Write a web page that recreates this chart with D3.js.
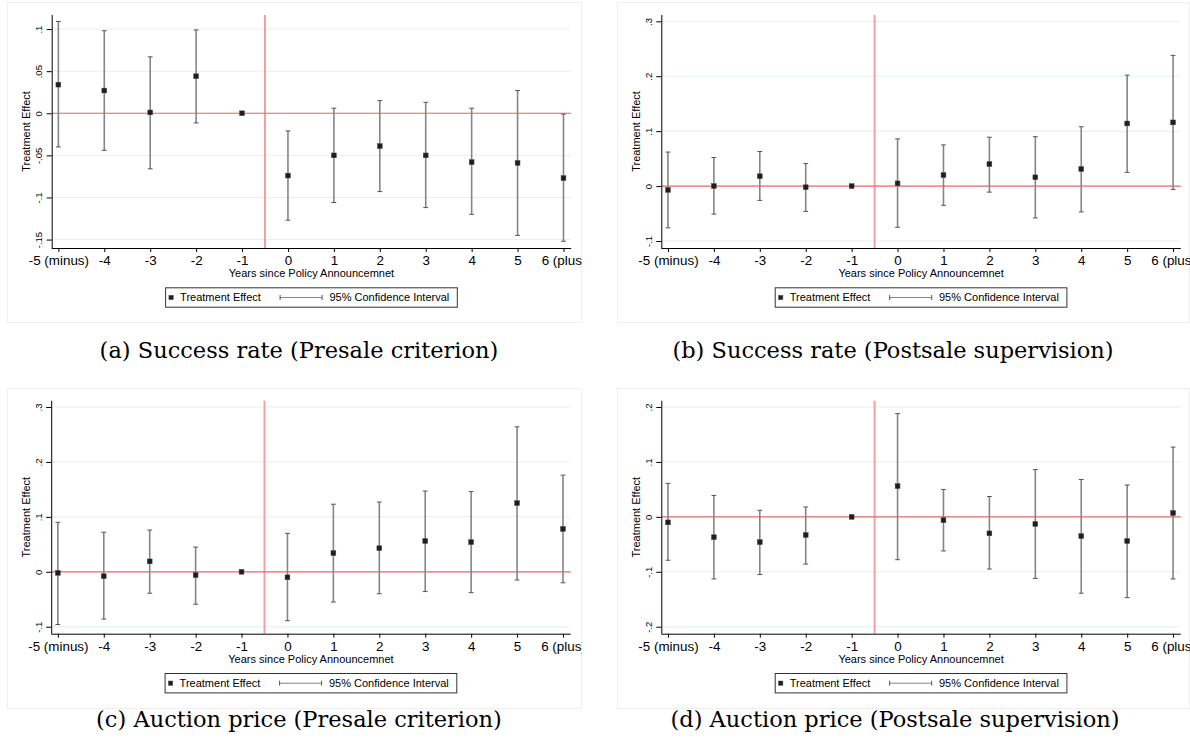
<!DOCTYPE html>
<html>
<head>
<meta charset="utf-8">
<script src="https://cdn.jsdelivr.net/npm/d3@7"></script>
<style>
  body { margin: 0; background: #fff; }
  text { font-family: "Liberation Sans", Arial, sans-serif; fill: #000; }
  text.caption { font-family: "DejaVu Serif", serif; font-size: 22.5px; }
</style>
</head>
<body>
<svg id="svg" width="1190" height="755"></svg>
<script>
// Event years and tick labels (shared by all panels)
const years = [-5, -4, -3, -2, -1, 0, 1, 2, 3, 4, 5, 6];
const yearLabels = ["-5 (minus)", "-4", "-3", "-2", "-1", "0", "1", "2", "3", "4", "5", "6 (plus)"];

// (a) Success rate, presale criterion
const estA = [0.034, 0.027, 0.001, 0.044, 0, -0.074, -0.050, -0.039, -0.050, -0.058, -0.059, -0.077];
const loA = [-0.040, -0.044, -0.066, -0.0115, null, -0.127, -0.106, -0.093, -0.112, -0.120, -0.145, -0.152];
const hiA = [0.109, 0.098, 0.067, 0.099, null, -0.021, 0.006, 0.015, 0.013, 0.006, 0.027, -0.001];

// (b) Success rate, postsale supervision
const estB = [-0.007, 0, 0.018, -0.002, 0, 0.005, 0.020, 0.040, 0.016, 0.031, 0.114, 0.116];
const loB = [-0.076, -0.051, -0.026, -0.046, null, -0.075, -0.035, -0.011, -0.058, -0.047, 0.025, -0.006];
const hiB = [0.062, 0.052, 0.063, 0.041, null, 0.086, 0.075, 0.089, 0.090, 0.108, 0.202, 0.238];

// (c) Auction price, presale criterion
const estC = [-0.002, -0.008, 0.019, -0.006, 0, -0.010, 0.034, 0.043, 0.056, 0.054, 0.125, 0.078];
const loC = [-0.096, -0.086, -0.039, -0.059, null, -0.089, -0.055, -0.040, -0.036, -0.038, -0.015, -0.020];
const hiC = [0.090, 0.072, 0.076, 0.045, null, 0.070, 0.123, 0.127, 0.147, 0.146, 0.264, 0.176];

// (d) Auction price, postsale supervision
const estD = [-0.010, -0.037, -0.046, -0.033, 0, 0.056, -0.006, -0.030, -0.013, -0.035, -0.044, 0.007];
const loD = [-0.079, -0.113, -0.105, -0.086, null, -0.078, -0.062, -0.095, -0.112, -0.139, -0.147, -0.113];
const hiD = [0.061, 0.039, 0.012, 0.018, null, 0.188, 0.050, 0.037, 0.086, 0.068, 0.058, 0.127];

// y tick values / labels
const ticksA = [0.1, 0.05, 0, -0.05, -0.1, -0.15];
const tickLabelsA = [".1", ".05", "0", "-.05", "-.1", "-.15"];
const ticksB = [0.3, 0.2, 0.1, 0, -0.1];
const tickLabelsB = [".3", ".2", ".1", "0", "-.1"];
const ticksD = [0.2, 0.1, 0, -0.1, -0.2];
const tickLabelsD = [".2", ".1", "0", "-.1", "-.2"];

const captions = [
  "(a) Success rate (Presale criterion)",
  "(b) Success rate (Postsale supervision)",
  "(c) Auction price (Presale criterion)",
  "(d) Auction price (Postsale supervision)"
];

const legendLabels = ["Treatment Effect", "95% Confidence Interval"];
const xTitle = "Years since Policy Announcemnet";
const yTitle = "Treatment Effect";
const policyLine = -0.5;

const attr = {
  plotWidth: 519.5,
  plotHeight: 233,
  xDomain: [-5.145, 6.168]
}

const colors = {
  grid: "#e6eff1",
  redH: "#ee6a6a",
  redV: "#f5a0a0",
  ci: "#858585",
  cap: "#555555",
  marker: "#1e1e1e",
  frame: "#efefef"
}

const panels = [
  { left: 51.7, top: 15, est: estA, lo: loA, hi: hiA, ticks: ticksA, labels: tickLabelsA,
    domain: [-0.16, 0.1167], frame: [7, 2, 582, 323], capX: 299, capY: 358 },
  { left: 661.3, top: 15, est: estB, lo: loB, hi: hiB, ticks: ticksB, labels: tickLabelsB,
    domain: [-0.1127, 0.3115], frame: [617, 2, 1190, 323], capX: 893, capY: 358 },
  { left: 51.2, top: 400.7, est: estC, lo: loC, hi: hiC, ticks: ticksB, labels: tickLabelsB,
    domain: [-0.1127, 0.3115], frame: [7, 388, 582, 709], capX: 299, capY: 727 },
  { left: 661.3, top: 400.7, est: estD, lo: loD, hi: hiD, ticks: ticksD, labels: tickLabelsD,
    domain: [-0.2127, 0.2115], frame: [617, 388, 1190, 709], capX: 895, capY: 727 }
];

const svg = d3.select("svg#svg");

var translate = function(a, b) {
  return "translate(" + a + "," + b + ")";
}

var drawPanel = function(p, i) {
  let W = attr.plotWidth, H = attr.plotHeight;

  // faint frame of the graph image
  let f = p.frame;
  svg.append("rect")
    .attr("x", f[0] + 0.5).attr("y", f[1] + 0.5)
    .attr("width", f[2] - f[0] - 1).attr("height", f[3] - f[1] - 1)
    .style("fill", "none").style("stroke", colors.frame);

  let clipId = "clip" + i;
  svg.append("clipPath").attr("id", clipId)
    .append("rect")
    .attr("x", f[0]).attr("y", f[1])
    .attr("width", f[2] - f[0]).attr("height", f[3] - f[1]);

  let g = svg.append("g")
    .attr("transform", translate(p.left, p.top));
  let gc = svg.append("g")
    .attr("clip-path", "url(#" + clipId + ")")
    .append("g")
    .attr("transform", translate(p.left, p.top));

  let x = d3.scaleLinear().domain(attr.xDomain).range([0, W]);
  let y = d3.scaleLinear().domain(p.domain).range([H, 0]);

  // grid
  g.selectAll("line.grid")
    .data(p.ticks)
    .enter()
    .append("line")
    .attr("class", "grid")
    .attr("x1", 0).attr("x2", W)
    .attr("y1", d => y(d)).attr("y2", d => y(d))
    .style("stroke", colors.grid).style("stroke-width", 1);

  // reference lines
  g.append("line")
    .attr("x1", x(policyLine)).attr("x2", x(policyLine))
    .attr("y1", 0).attr("y2", H)
    .style("stroke", colors.redV).style("stroke-width", 2);
  g.append("line")
    .attr("x1", 0).attr("x2", W)
    .attr("y1", y(0)).attr("y2", y(0))
    .style("stroke", colors.redH).style("stroke-width", 1.2);

  // y axis
  let yAxis = d3.axisLeft(y)
    .tickValues(p.ticks)
    .tickSize(5)
    .tickPadding(0)
    .tickFormat((d, k) => p.labels[k]);
  let ya = g.append("g").call(yAxis);
  ya.select(".domain").attr("d", "M0.5," + 0 + "V" + H).style("stroke", "#000");
  ya.selectAll(".tick line").style("stroke", "#000");
  ya.selectAll(".tick text")
    .attr("x", null).attr("dy", null)
    .attr("transform", "translate(-9.7,0) rotate(-90)")
    .attr("text-anchor", "middle")
    .style("font-family", "Liberation Sans, Arial, sans-serif")
    .style("font-size", "9.5px");

  // x axis
  let xAxis = d3.axisBottom(x)
    .tickValues(years)
    .tickSize(4)
    .tickPadding(4)
    .tickFormat((d, k) => yearLabels[k]);
  let xa = gc.append("g").attr("transform", translate(0, H)).call(xAxis);
  xa.select(".domain").attr("d", "M0," + 0.5 + "H" + W).style("stroke", "#000");
  xa.selectAll(".tick line").style("stroke", "#000");
  xa.selectAll(".tick text")
    .attr("dy", null).attr("y", 17)
    .style("font-family", "Liberation Sans, Arial, sans-serif")
    .style("font-size", "13.4px");

  // axis titles
  g.append("text")
    .attr("x", W / 2).attr("y", H + 29.3)
    .attr("text-anchor", "middle")
    .style("font-size", "11px")
    .text(xTitle);
  g.append("text")
    .attr("transform", translate(-21.5, H / 2) + " rotate(-90)")
    .attr("text-anchor", "middle")
    .style("font-size", "11px")
    .text(yTitle);

  // confidence intervals
  let rows = years.map((yr, k) => ({ yr: yr, est: p.est[k], lo: p.lo[k], hi: p.hi[k] }));
  let ci = rows.filter(d => d.lo !== null);

  g.selectAll("line.ci")
    .data(ci)
    .enter()
    .append("line")
    .attr("class", "ci")
    .attr("x1", d => x(d.yr)).attr("x2", d => x(d.yr))
    .attr("y1", d => y(d.lo)).attr("y2", d => y(d.hi))
    .style("stroke", colors.ci).style("stroke-width", 1.6);

  ["lo", "hi"].forEach(function(key) {
    g.selectAll("line.cap-" + key)
      .data(ci)
      .enter()
      .append("line")
      .attr("class", "cap-" + key)
      .attr("x1", d => x(d.yr) - 2.4).attr("x2", d => x(d.yr) + 2.4)
      .attr("y1", d => y(d[key])).attr("y2", d => y(d[key]))
      .style("stroke", colors.cap).style("stroke-width", 1);
  });

  // point estimates
  g.selectAll("rect.est")
    .data(rows)
    .enter()
    .append("rect")
    .attr("class", "est")
    .attr("x", d => x(d.yr) - 2.4).attr("y", d => y(d.est) - 2.4)
    .attr("width", 4.8).attr("height", 4.8)
    .style("fill", colors.marker)
    .style("stroke", "#444").style("stroke-width", 0.5);

  // legend
  let lw = 292.7, lh = 20.4;
  let lg = g.append("g")
    .attr("transform", translate(W / 2 - lw / 2, H + 39.3));
  lg.append("rect")
    .attr("x", 0.5).attr("y", 0.5)
    .attr("width", lw - 1).attr("height", lh - 1)
    .style("fill", "#fff").style("stroke", "#333").style("stroke-width", 1);
  lg.append("rect")
    .attr("x", 3.8).attr("y", lh / 2 - 2.2)
    .attr("width", 4.4).attr("height", 4.4)
    .style("fill", colors.marker).style("stroke", "#555").style("stroke-width", 0.5);
  lg.append("text")
    .attr("x", 15).attr("y", lh / 2 + 4)
    .style("font-size", "11px")
    .text(legendLabels[0]);
  lg.append("line")
    .attr("x1", 115).attr("x2", 157)
    .attr("y1", lh / 2).attr("y2", lh / 2)
    .style("stroke", colors.ci).style("stroke-width", 1);
  [115, 157].forEach(function(cx) {
    lg.append("line")
      .attr("x1", cx).attr("x2", cx)
      .attr("y1", lh / 2 - 2.5).attr("y2", lh / 2 + 2.5)
      .style("stroke", colors.cap).style("stroke-width", 1);
  });
  lg.append("text")
    .attr("x", 164.3).attr("y", lh / 2 + 4)
    .style("font-size", "11px")
    .text(legendLabels[1]);

  // caption below the graph
  svg.append("text")
    .attr("class", "caption")
    .attr("x", p.capX).attr("y", p.capY)
    .attr("text-anchor", "middle")
    .text(captions[i]);
}

panels.forEach(drawPanel);
</script>
</body>
</html>
